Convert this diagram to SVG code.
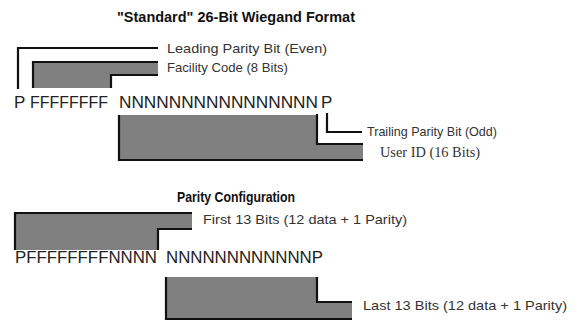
<svg xmlns="http://www.w3.org/2000/svg" width="578" height="323" viewBox="0 0 578 323">
<style>
.bg{fill:#ffffff}
.fill{fill:#808080;stroke:none}
.ln{fill:none;stroke:#111;stroke-width:2.2}
.bits{font-family:"Liberation Sans",Arial,sans-serif;font-size:17px;fill:#222}
.lbl{font-family:"Liberation Sans",Arial,sans-serif;font-size:13.5px;fill:#333}
.ser{font-family:"Liberation Serif","Times New Roman",serif;font-size:14px;fill:#333}
.ttl{font-family:"Liberation Sans",Arial,sans-serif;font-size:14.5px;font-weight:bold;fill:#111}
</style>
<rect class="bg" x="0" y="0" width="578" height="323"/>
<g id="title"><text class="ttl" x="117" y="22" textLength="238" lengthAdjust="spacingAndGlyphs">"Standard" 26-Bit Wiegand Format</text></g>
<g id="leading-parity"><text class="lbl" x="167" y="53" textLength="160" lengthAdjust="spacingAndGlyphs">Leading Parity Bit (Even)</text></g>
<g id="facility-code">
<polygon class="fill" points="33,62 158,62 158,75 111,75 111,88 33,88"/>
<text class="lbl" x="167" y="72" textLength="121" lengthAdjust="spacingAndGlyphs">Facility Code (8 Bits)</text>
</g>
<g id="row1">
<text class="bits" y="108"><tspan x="14">P</tspan><tspan x="30" textLength="78" lengthAdjust="spacingAndGlyphs">FFFFFFFF</tspan><tspan x="119" textLength="199" lengthAdjust="spacingAndGlyphs">NNNNNNNNNNNNNNNN</tspan><tspan x="321">P</tspan></text>
</g>
<g id="user-id">
<polygon class="fill" points="119,115 317,115 317,144 363,144 363,160 119,160"/>
<text class="ser" x="380" y="157" textLength="100" lengthAdjust="spacingAndGlyphs">User ID (16 Bits)</text>
</g>
<g id="trailing-parity"><text class="lbl" x="367" y="136" textLength="130" lengthAdjust="spacingAndGlyphs">Trailing Parity Bit (Odd)</text></g>
<g id="parity-title"><text class="ttl" x="177" y="202" textLength="118" lengthAdjust="spacingAndGlyphs">Parity Configuration</text></g>
<g id="first13">
<polygon class="fill" points="15,213 192,213 192,229 158,229 158,250 15,250"/>
<text class="lbl" x="203" y="224" textLength="204" lengthAdjust="spacingAndGlyphs">First 13 Bits (12 data + 1 Parity)</text>
</g>
<g id="row2">
<text class="bits" y="263"><tspan x="15" textLength="142" lengthAdjust="spacingAndGlyphs">PFFFFFFFFNNNN</tspan><tspan x="166" textLength="157" lengthAdjust="spacingAndGlyphs">NNNNNNNNNNNNP</tspan></text>
</g>
<g id="last13">
<polygon class="fill" points="166,277 317,277 317,302 352,302 352,319 166,319"/>
<text class="lbl" x="363" y="310" textLength="204" lengthAdjust="spacingAndGlyphs">Last 13 Bits (12 data + 1 Parity)</text>
</g>
<g id="connectors">
<polyline class="ln" points="18,89 18,48 158,48"/>
<polyline class="ln" points="33,88 33,62 158,62"/>
<polyline class="ln" points="111,88 111,75 158,75"/>
<polyline class="ln" points="119,115 119,160 363,160"/>
<polyline class="ln" points="317,114 317,144 363,144"/>
<polyline class="ln" points="327,113 327,132 362,132"/>
<polyline class="ln" points="15,250 15,213 192,213"/>
<polyline class="ln" points="158,250 158,229 192,229"/>
<polyline class="ln" points="166,277 166,319 352,319"/>
<polyline class="ln" points="317,277 317,302 352,302"/>
</g>
</svg>
